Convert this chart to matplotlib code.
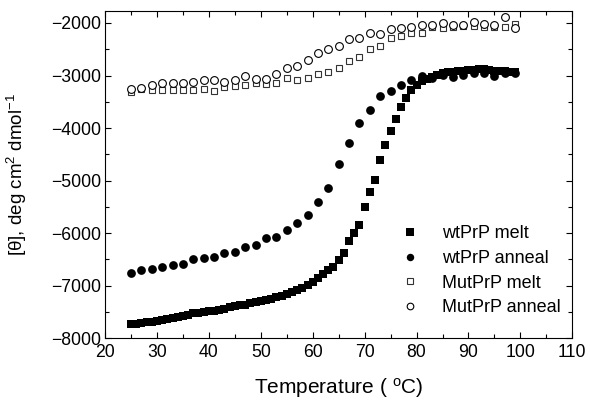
import numpy as np
from matplotlib import pyplot as plt
from matplotlib.ticker import MultipleLocator

plt.rcParams['font.family'] = ['Liberation Sans', 'DejaVu Sans']
plt.rcParams['mathtext.fontset'] = 'custom'
plt.rcParams['mathtext.rm'] = 'Liberation Sans'
plt.rcParams['mathtext.default'] = 'rm'

# wtPrP melt, every 1 degC from 25 to 99
wt_melt_T = np.arange(25, 100, 1)
wt_melt = [-7740, -7725, -7710, -7700, -7690, -7675, -7660, -7635, -7610, -7590,
           -7570, -7550, -7530, -7515, -7505, -7490, -7475, -7460, -7440, -7415,
           -7395, -7375, -7360, -7340, -7320, -7300, -7275, -7250, -7220, -7190,
           -7160, -7120, -7085, -7040, -6990, -6930, -6860, -6780, -6710, -6648,
           -6509, -6381, -6141, -6000, -5848, -5505, -5210, -4985, -4617, -4324,
           -4065, -3823, -3600, -3436, -3283, -3175, -3110, -3060, -3020, -2990,
           -2960, -2940, -2930, -2920, -2910, -2900, -2890, -2880, -2880, -2900,
           -2910, -2910, -2920, -2930, -2940]

# the other three series, every 2 degC from 25 to 99
T2 = np.arange(25, 100, 2)
wt_anneal = [-6756, -6712, -6680, -6642, -6610, -6579, -6495, -6476, -6446, -6388,
             -6362, -6267, -6223, -6096, -6076, -5937, -5810, -5665, -5410, -5150,
             -4680, -4286, -3905, -3651, -3398, -3303, -3175, -3080, -3010, -3040,
             -2990, -3020, -2990, -2960, -2960, -3000, -2960, -2960]
mut_melt = [-3322, -3257, -3276, -3283, -3276, -3283, -3283, -3251, -3290, -3220,
            -3207, -3188, -3143, -3169, -3137, -3055, -3087, -3042, -2966, -2941,
            -2865, -2724, -2642, -2503, -2439, -2293, -2242, -2198, -2198, -2070,
            -2089, -2070, -2051, -2051, -2070, -2070, -2070, -2026]
mut_anneal = [-3257, -3245, -3188, -3150, -3143, -3150, -3118, -3093, -3080, -3131,
              -3093, -3004, -3074, -3061, -2966, -2865, -2819, -2705, -2579, -2496,
              -2432, -2312, -2293, -2185, -2217, -2122, -2102, -2083, -2038, -2038,
              -1994, -2038, -2038, -1990, -2010, -2030, -1880, -2102]

fig = plt.figure(figsize=(5.9, 4.04), dpi=100)
ax = fig.add_axes([0.178, 0.163, 0.792, 0.81])

ax.plot(wt_melt_T, wt_melt, 's', color='black', ms=6.0, mew=0, label='wtPrP melt')
ax.plot(T2, wt_anneal, 'o', color='black', ms=6.3, mew=0, label='wtPrP anneal')
ax.plot(T2, mut_melt, 's', mfc='white', mec='#333333', ms=5.0, mew=0.8, label='MutPrP melt')
ax.plot(T2, mut_anneal, 'o', mfc='white', mec='black', ms=5.6, mew=0.8, label='MutPrP anneal')

ax.set_xlim(20, 110)
ax.set_ylim(-8000, -1770)
ax.xaxis.set_major_locator(MultipleLocator(10))
ax.xaxis.set_minor_locator(MultipleLocator(5))
ax.yaxis.set_major_locator(MultipleLocator(1000))
ax.yaxis.set_minor_locator(MultipleLocator(500))
ax.tick_params(which='both', direction='in', top=True, right=True, labelsize=12.7, width=0.8)
ax.tick_params(which='major', length=4)
ax.tick_params(axis='x', which='major', pad=4)
ax.tick_params(axis='y', which='major', pad=3)
ax.tick_params(which='minor', length=3)
for s in ax.spines.values():
    s.set_linewidth(0.8)

ax.set_xlabel('Temperature ( $^{o}$C)', fontsize=15, labelpad=11)
ax.set_ylabel('[θ], deg cm$^{2}$ dmol$^{-1}$', fontsize=13.5)
ax.yaxis.set_label_coords(-0.163, 0.5)

ax.legend(loc='lower right', bbox_to_anchor=(0.991, 0.045), frameon=False, fontsize=13,
          handletextpad=0.8, labelspacing=0.42, borderaxespad=0, markerscale=0.85)

fig.savefig('out.png', dpi=100)
